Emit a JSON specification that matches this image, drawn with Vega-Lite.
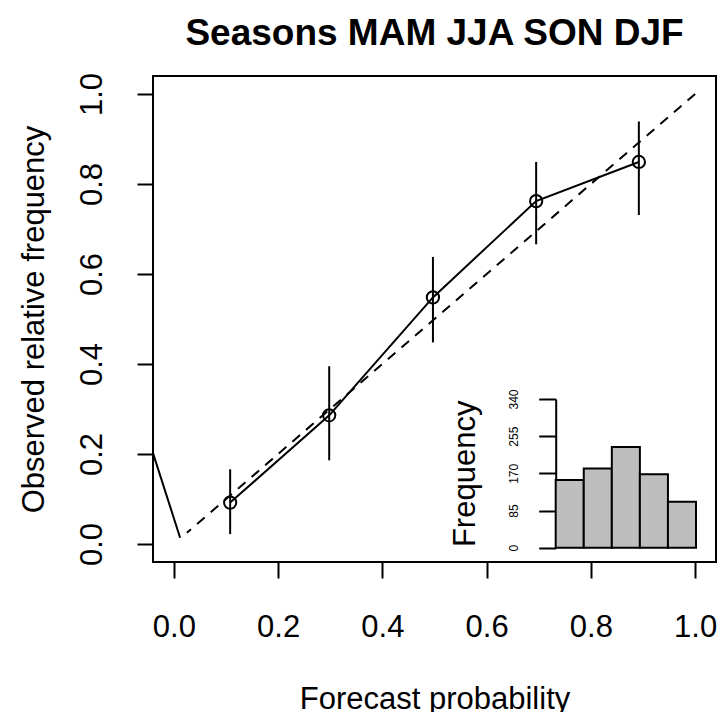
{
  "$schema": "https://vega.github.io/schema/vega-lite/v6.json",
  "width": 563,
  "height": 486,
  "autosize": {"type": "none"},
  "padding": {"left": 153, "top": 76, "right": 2, "bottom": 150},
  "background": "white",
  "config": {
    "font": "Liberation Sans",
    "view": {"stroke": "black", "strokeWidth": 2},
    "axis": {
      "grid": false,
      "labelColor": "black",
      "titleColor": "black",
      "tickColor": "black",
      "domainColor": "black",
      "labelFont": "Liberation Sans",
      "titleFont": "Liberation Sans",
      "titleFontWeight": "normal"
    }
  },
  "title": {
    "text": "Seasons MAM JJA SON DJF",
    "font": "Liberation Sans",
    "fontSize": 37,
    "fontWeight": "bold",
    "color": "black",
    "anchor": "middle",
    "frame": "group",
    "baseline": "alphabetic",
    "offset": -10
  },
  "datasets": {
    "points": [
      {"x": 0.108, "y": 0.092, "lo": 0.022, "hi": 0.166},
      {"x": 0.298, "y": 0.286, "lo": 0.186, "hi": 0.395},
      {"x": 0.497, "y": 0.548, "lo": 0.448, "hi": 0.638},
      {"x": 0.695, "y": 0.762, "lo": 0.666, "hi": 0.849},
      {"x": 0.892, "y": 0.849, "lo": 0.731, "hi": 0.939}
    ],
    "diag": [
      {"x": 1.0, "y": 1.0, "ord": 1},
      {"x": 0.025, "y": 0.025, "ord": 2}
    ],
    "left": [
      {"x": -0.04, "y": 0.202},
      {"x": 0.012, "y": 0.014}
    ],
    "hist": [
      {"start": 0.0, "end": 0.2, "count": 155},
      {"start": 0.2, "end": 0.4, "count": 181},
      {"start": 0.4, "end": 0.6, "count": 230},
      {"start": 0.6, "end": 0.8, "count": 168},
      {"start": 0.8, "end": 1.0, "count": 105}
    ]
  },
  "layer": [
    {
      "layer": [
        {
          "data": {"name": "diag"},
          "mark": {"type": "line", "color": "black", "strokeWidth": 2, "strokeDash": [10, 8]},
          "encoding": {
            "x": {
              "field": "x", "type": "quantitative", "title": "Forecast probability",
              "scale": {"domain": [-0.04, 1.04], "nice": false, "zero": false},
              "axis": {
                "values": [0, 0.2, 0.4, 0.6, 0.8, 1.0], "format": ".1f",
                "domain": false, "tickSize": 16, "tickWidth": 2,
                "labelFontSize": 31, "labelBaseline": "alphabetic", "labelPadding": 58,
                "labelFlush": false, "labelOverlap": false,
                "titleFontSize": 31, "titleBaseline": "alphabetic", "titlePadding": 66
              }
            },
            "y": {
              "field": "y", "type": "quantitative", "title": "Observed relative frequency",
              "scale": {"domain": [-0.04, 1.04], "nice": false, "zero": false},
              "axis": {
                "values": [0, 0.2, 0.4, 0.6, 0.8, 1.0], "format": ".1f",
                "domain": false, "tickSize": 16, "tickWidth": 2,
                "labelFontSize": 31, "labelAngle": -90, "labelAlign": "center",
                "labelBaseline": "alphabetic", "labelPadding": 36,
                "labelFlush": false, "labelOverlap": false,
                "titleFontSize": 31, "titleBaseline": "alphabetic", "titlePadding": 33
              }
            },
            "order": {"field": "ord", "type": "quantitative"}
          }
        },
        {
          "data": {"name": "left"},
          "mark": {"type": "line", "color": "black", "strokeWidth": 2},
          "encoding": {
            "x": {"field": "x", "type": "quantitative", "title": "Forecast probability"},
            "y": {"field": "y", "type": "quantitative", "title": "Observed relative frequency"}
          }
        },
        {
          "data": {"name": "points"},
          "mark": {"type": "rule", "color": "black", "strokeWidth": 2},
          "encoding": {
            "x": {"field": "x", "type": "quantitative", "title": "Forecast probability"},
            "y": {"field": "lo", "type": "quantitative", "title": "Observed relative frequency"},
            "y2": {"field": "hi"}
          }
        },
        {
          "data": {"name": "points"},
          "mark": {"type": "line", "color": "black", "strokeWidth": 2},
          "encoding": {
            "x": {"field": "x", "type": "quantitative", "title": "Forecast probability"},
            "y": {"field": "y", "type": "quantitative", "title": "Observed relative frequency"}
          }
        },
        {
          "data": {"name": "points"},
          "mark": {"type": "point", "shape": "circle", "filled": false, "size": 150, "stroke": "black", "strokeWidth": 2, "opacity": 1},
          "encoding": {
            "x": {"field": "x", "type": "quantitative", "title": "Forecast probability"},
            "y": {"field": "y", "type": "quantitative", "title": "Observed relative frequency"}
          }
        }
      ]
    },
    {
      "data": {"name": "hist"},
      "mark": {"type": "bar", "fill": "#bebebe", "stroke": "black", "strokeWidth": 2},
      "encoding": {
        "x": {
          "field": "start", "type": "quantitative",
          "scale": {"domain": [0, 1], "range": [402.7, 543], "nice": false, "zero": false},
          "axis": null
        },
        "x2": {"field": "end"},
        "y": {
          "field": "count", "type": "quantitative", "title": "Frequency",
          "scale": {"domain": [0, 340], "range": [471.7, 323], "nice": false},
          "axis": {
            "orient": "left", "offset": -402.7,
            "values": [0, 85, 170, 255, 340],
            "domain": true, "domainWidth": 2, "tickSize": 17, "tickWidth": 2,
            "labelFontSize": 12, "labelAngle": -90, "labelAlign": "center",
            "labelBaseline": "alphabetic", "labelPadding": 21,
            "labelFlush": false, "labelOverlap": false,
            "titleFontSize": 31, "titleBaseline": "alphabetic", "titlePadding": 33
          }
        },
        "y2": {"datum": 0}
      }
    }
  ],
  "resolve": {
    "scale": {"x": "independent", "y": "independent"},
    "axis": {"x": "independent", "y": "independent"}
  }
}
